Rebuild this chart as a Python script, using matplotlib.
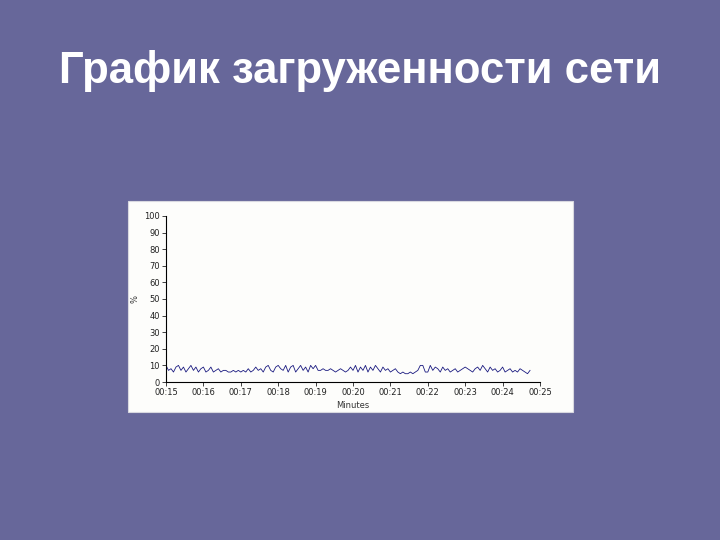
import numpy as np
import matplotlib.pyplot as plt
from matplotlib.patches import Rectangle

# slide title and chart texts
title = "График загруженности сети"
x_label = "Minutes"
y_label = "%"
x_tick_labels = ["00:15", "00:16", "00:17", "00:18", "00:19", "00:20",
                 "00:21", "00:22", "00:23", "00:24", "00:25"]
y_ticks = [0, 10, 20, 30, 40, 50, 60, 70, 80, 90, 100]

# network load, %, one sample every 4 s starting at 00:15
load_15 = [10, 7, 8, 6, 9, 10, 7, 9, 6, 8, 10, 7, 9, 6, 8]
load_16 = [9, 6, 7, 9, 6, 7, 8, 6, 7, 7, 6, 6, 7, 6, 7]
load_17 = [6, 7, 6, 8, 6, 7, 9, 7, 8, 6, 9, 10, 7, 6, 9]
load_18 = [10, 8, 7, 10, 6, 9, 10, 6, 8, 10, 7, 9, 6, 10, 8]
load_19 = [10, 7, 7, 8, 7, 7, 8, 7, 6, 7, 8, 7, 6, 7, 9]
load_20 = [7, 10, 6, 9, 7, 10, 6, 9, 7, 10, 8, 6, 9, 7, 8]
load_21 = [6, 7, 8, 6, 5, 6, 5, 5, 6, 5, 6, 7, 10, 10, 6]
load_22 = [6, 10, 7, 9, 8, 6, 9, 7, 8, 6, 7, 8, 6, 7, 8]
load_23 = [9, 8, 7, 6, 8, 9, 7, 10, 8, 6, 9, 7, 8, 6, 7]
load_24 = [9, 6, 7, 8, 6, 7, 6, 8, 7, 6, 5, 7]

load = (load_15 + load_16 + load_17 + load_18 + load_19 +
        load_20 + load_21 + load_22 + load_23 + load_24)
minutes = 15 + np.arange(len(load)) * 4 / 60

bg = "#67679a"
fig = plt.figure(figsize=(7.2, 5.4), dpi=100, facecolor=bg)

fig.text(0.5, 0.868, title, ha="center", va="center", color="white",
         fontsize=31.5, fontweight="bold", family="Liberation Sans")

# white chart panel pasted on the slide, kept behind the axes
fig.patches.append(Rectangle((128 / 720, 1 - 412 / 540), 445 / 720, 211 / 540,
                             transform=fig.transFigure, facecolor="#fdfdfb",
                             edgecolor="#d8d8e0", linewidth=0.8, zorder=-5))

ax = fig.add_axes([166 / 720, 1 - 382 / 540, (540 - 166) / 720, (382 - 216) / 540])
ax.set_zorder(2)
ax.set_facecolor("none")
ax.plot(minutes, load, color="#1a1a80", linewidth=0.6)

ax.set_xlim(15, 25)
ax.set_ylim(0, 100)
ax.set_xticks(range(15, 26))
ax.set_xticklabels(x_tick_labels)
ax.set_yticks(y_ticks)
for s in ["top", "right"]:
    ax.spines[s].set_visible(False)
for s in ["left", "bottom"]:
    ax.spines[s].set_linewidth(0.8)
ax.tick_params(labelsize=6, length=3, width=0.6, pad=1.5, colors="#222222")
ax.set_xlabel(x_label, fontsize=6, labelpad=3, color="#333333")
ax.set_ylabel(y_label, fontsize=6, color="#333333")
ax.yaxis.set_label_coords(-0.07, 0.5)

fig.savefig("out.png", dpi=100, facecolor=bg)
